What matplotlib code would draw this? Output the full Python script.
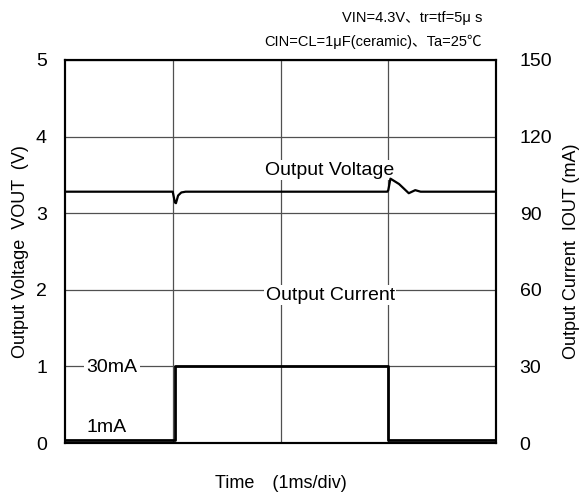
import matplotlib
matplotlib.use("Agg")
import matplotlib.pyplot as plt

plt.rcParams['font.family'] = ['Liberation Sans', 'Noto Sans CJK JP', 'DejaVu Sans']

# time in ms (1 ms per division)
time_v = [0.0, 1.0, 1.02, 1.03, 1.05, 1.08, 1.12, 2.99, 3.0, 3.02, 3.1, 3.19, 3.25, 3.3, 4.0]
vout = [3.28, 3.28, 3.14, 3.13, 3.23, 3.27, 3.28, 3.28, 3.30, 3.45, 3.38, 3.26, 3.30, 3.28, 3.28]

time_i = [0.0, 1.02, 1.02, 3.0, 3.0, 4.0]
iout = [1, 1, 30, 30, 1, 1]

v_ticks = [0, 1, 2, 3, 4, 5]
i_ticks = [0, 30, 60, 90, 120, 150]

fig = plt.figure(figsize=(5.85, 4.95), dpi=100)
ax = fig.add_axes([0.111, 0.105, 0.737, 0.774])
ax2 = ax.twinx()

ax.set_xlim(0, 4)
ax.set_ylim(0, 5)
ax2.set_ylim(0, 150)
ax.set_xticks([1, 2, 3])
ax.set_xticklabels([])
ax.set_yticks(v_ticks)
ax2.set_yticks(i_ticks)
ax.tick_params(axis='both', length=0, labelsize=14, pad=13)
ax2.tick_params(axis='y', length=0, labelsize=14, pad=17)
ax.grid(True, color='#505050', linewidth=0.9)

for a in (ax, ax2):
    for s in a.spines.values():
        s.set_linewidth(1.5)
        s.set_color('black')

ax.plot(time_v, vout, color='black', linewidth=1.6, zorder=3)
ax2.plot(time_i, iout, color='black', linewidth=2.0, zorder=3)

# labels sit above the grid but under the traces
ax.text(2.46, 3.56, 'Output Voltage', fontsize=14, ha='center', va='center',
        zorder=2.5, bbox=dict(facecolor='white', edgecolor='none', pad=1))
ax.text(2.46, 1.93, 'Output Current', fontsize=14, ha='center', va='center',
        zorder=2.5, bbox=dict(facecolor='white', edgecolor='none', pad=1))
ax.text(0.2, 0.99, '30mA', fontsize=14, ha='left', va='center', zorder=2.5,
        bbox=dict(facecolor='white', edgecolor='none', pad=2))
ax.text(0.2, 0.2, '1mA', fontsize=14, ha='left', va='center', zorder=2.5)

ax.set_xlabel('Time\u3000(1ms/div)', fontsize=13, labelpad=10)
ax.set_ylabel('Output Voltage  VOUT  (V)', fontsize=13, labelpad=5)
ax2.set_ylabel('Output Current  IOUT (mA)', fontsize=13, labelpad=8)

fig.text(0.824, 0.963, 'VIN=4.3V、tr=tf=5μ s', fontsize=10.5, ha='right', va='center')
fig.text(0.824, 0.915, 'CIN=CL=1μF(ceramic)、Ta=25℃', fontsize=10.5, ha='right', va='center')

fig.savefig('out.png', dpi=100)
